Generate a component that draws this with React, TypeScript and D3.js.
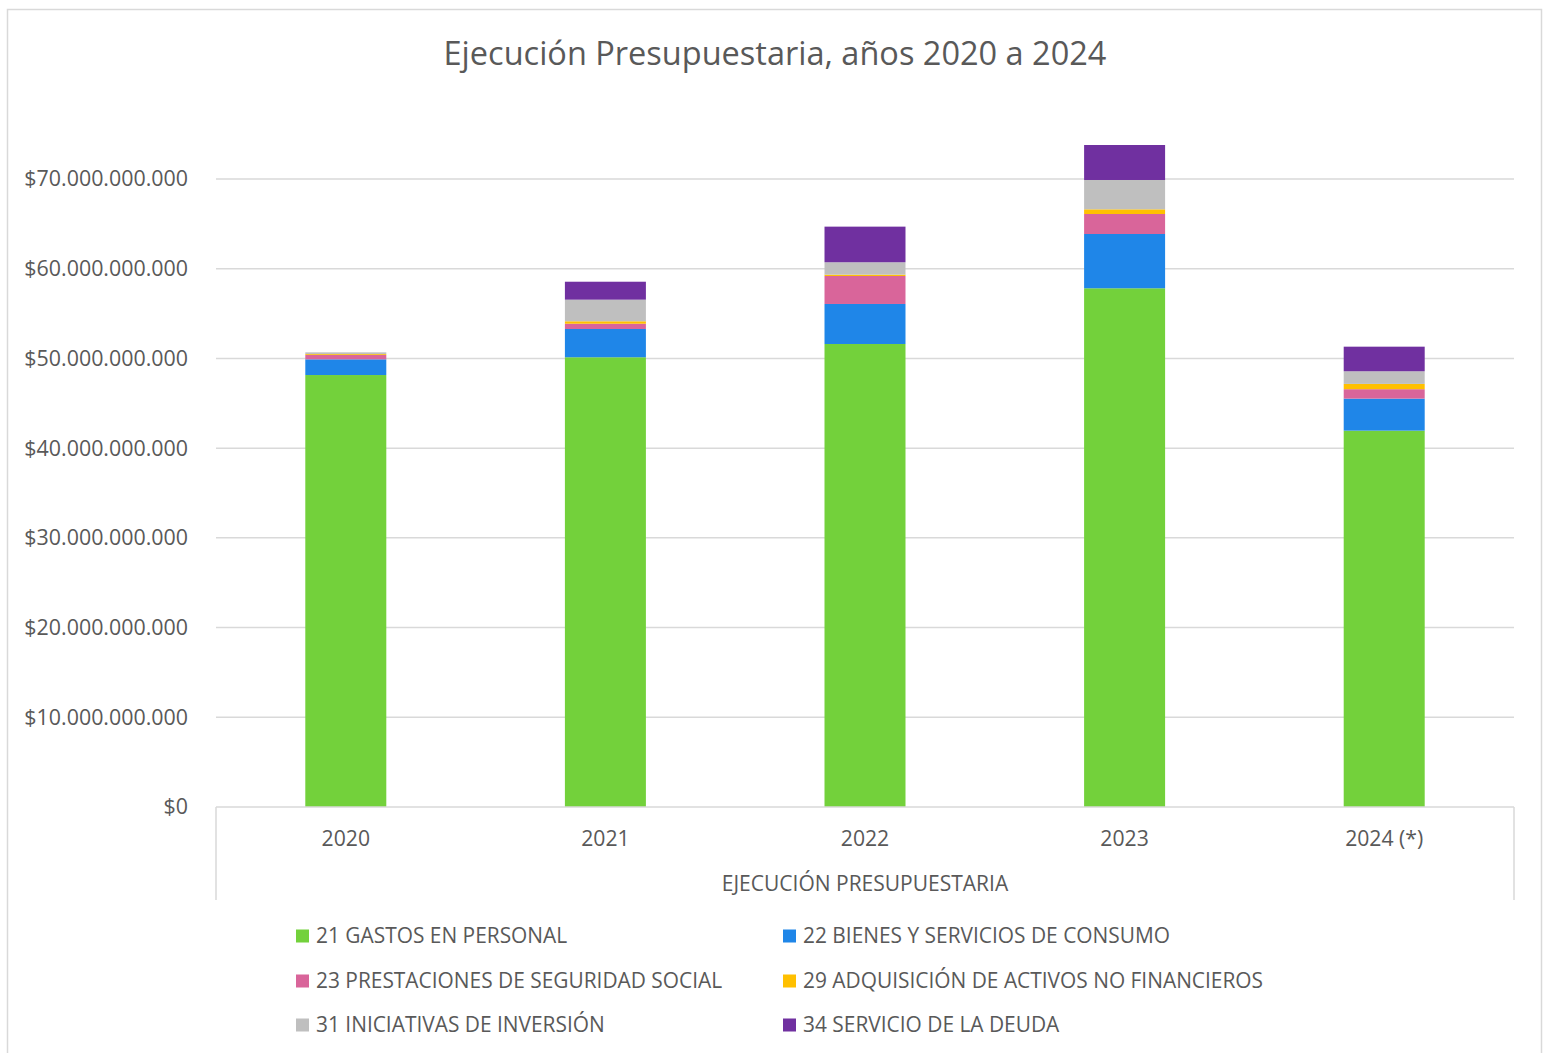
import React from "react";
import * as d3 from "d3";

const categories = ["2020", "2021", "2022", "2023", "2024 (*)"];
const seriesNames = [
  "21 GASTOS EN PERSONAL",
  "22 BIENES Y SERVICIOS DE CONSUMO",
  "23 PRESTACIONES DE SEGURIDAD SOCIAL",
  "29 ADQUISICIÓN DE ACTIVOS NO FINANCIEROS",
  "31 INICIATIVAS DE INVERSIÓN",
  "34 SERVICIO DE LA DEUDA",
];
const colors = ["#73D13B", "#1F86E8", "#D9659A", "#FFC000", "#BFBFBF", "#7030A0"];
// values in billions of pesos
const gastosPersonal = [48.15, 50.13, 51.61, 57.82, 41.95];
const bienesServicios = [1.75, 3.15, 4.46, 6.05, 3.57];
const prestaciones = [0.48, 0.59, 3.12, 2.23, 1.05];
const activos = [0.1, 0.27, 0.15, 0.52, 0.59];
const inversion = [0.2, 2.41, 1.38, 3.27, 1.41];
const deuda = [0.0, 2.0, 3.97, 3.9, 2.74];
const yTicks = [0, 10, 20, 30, 40, 50, 60, 70];

const W = 1548;
const H = 1053;
const font = "'Open Sans', sans-serif";
const textColor = "#595959";
const gridColor = "#D9D9D9";

export default function App() {
  const series = [gastosPersonal, bienesServicios, prestaciones, activos, inversion, deuda];
  const rows = categories.map((c, i) => {
    const r: any = { cat: c };
    seriesNames.forEach((s, j) => (r[s] = series[j][i]));
    return r;
  });
  const stacked = d3.stack<any>().keys(seriesNames)(rows);

  const left = 216, right = 1514, bottom = 807;
  const y = d3.scaleLinear().domain([0, 70]).range([bottom, 179]);
  const x = d3.scaleBand().domain(categories).range([left, right]).paddingInner(0.688).paddingOuter(0.344);

  const fmt = (v: number) =>
    v === 0 ? "$0" : "$" + d3.format(",")(v * 1e9).replace(/,/g, ".");

  const legendPos = [
    [296, 936], [783, 936],
    [296, 981], [783, 981],
    [296, 1025], [783, 1025],
  ];

  return (
    <svg width={W} height={H} style={{ position: "absolute", left: 0, top: 0, background: "#fff" }} fontFamily={font}>
      <rect x={7.5} y={9.5} width={1534} height={1060} fill="#fff" stroke="#D9D9D9" strokeWidth={1.5} />
      <text x={775} y={65} textAnchor="middle" fontSize={32.5} fill={textColor}>
        Ejecución Presupuestaria, años 2020 a 2024
      </text>
      {yTicks.map((t) => (
        <g key={t}>
          {t > 0 && <line x1={left} x2={right} y1={y(t)} y2={y(t)} stroke={gridColor} strokeWidth={1.5} />}
          <text x={188} y={y(t)} dy="0.35em" textAnchor="end" fontSize={21.4} fill={textColor}>
            {fmt(t)}
          </text>
        </g>
      ))}
      {stacked.map((layer, j) => (
        <g key={layer.key} fill={colors[j]}>
          {layer.map((d, i) => (
            <rect
              key={i}
              x={x(categories[i])}
              width={x.bandwidth()}
              y={y(d[1])}
              height={Math.max(0, y(d[0]) - y(d[1]))}
            />
          ))}
        </g>
      ))}
      <line x1={left} x2={right} y1={bottom} y2={bottom} stroke={gridColor} strokeWidth={1.5} />
      <line x1={left} x2={left} y1={bottom} y2={900} stroke={gridColor} strokeWidth={1.5} />
      <line x1={right} x2={right} y1={bottom} y2={900} stroke={gridColor} strokeWidth={1.5} />
      {categories.map((c) => (
        <text key={c} x={(x(c) as number) + x.bandwidth() / 2} y={839} dy="0.35em" textAnchor="middle" fontSize={21.2} fill={textColor}>
          {c}
        </text>
      ))}
      <text x={(left + right) / 2} y={884} dy="0.35em" textAnchor="middle" fontSize={21} fill={textColor}>
        EJECUCIÓN PRESUPUESTARIA
      </text>
      {seriesNames.map((s, j) => (
        <g key={s}>
          <rect x={legendPos[j][0]} y={legendPos[j][1] - 6.5} width={13} height={13} fill={colors[j]} />
          <text x={legendPos[j][0] + 20} y={legendPos[j][1]} dy="0.35em" fontSize={20.9} fill={textColor}>
            {s}
          </text>
        </g>
      ))}
    </svg>
  );
}
